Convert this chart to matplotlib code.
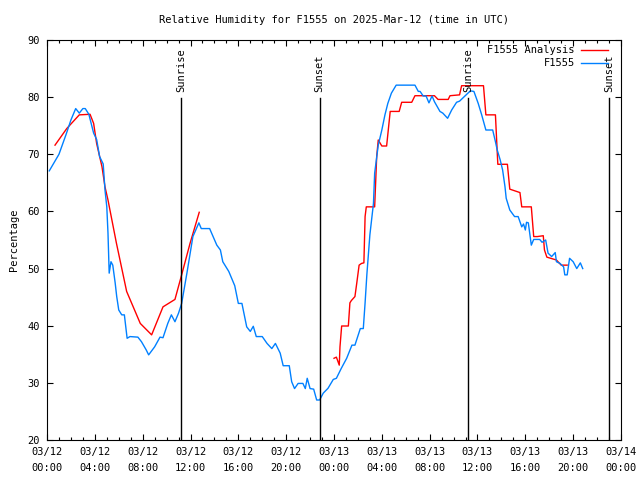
import matplotlib
matplotlib.use('Agg')
import matplotlib.pyplot as plt
from matplotlib.ticker import MultipleLocator, FixedLocator

plt.rcParams['font.family'] = ['DejaVu Sans Mono']
plt.rcParams['font.size'] = 7.5

# hours since 2025-03-12 00:00 UTC
obs_hours = [0.19, 1.0, 1.6, 2.0, 2.4, 2.7, 3.0, 3.2, 3.5, 3.9, 4.15, 4.4, 4.7, 4.85, 5.0,
             5.1, 5.2, 5.35, 5.5, 5.7, 5.83, 6.0, 6.25, 6.47, 6.7, 6.94, 7.6, 7.9, 8.3, 8.5,
             9.0, 9.45, 9.7, 10.1, 10.4, 10.7, 11.0, 11.26, 11.7, 12.2, 12.7, 12.9, 13.6, 14.2,
             14.5, 14.7, 15.2, 15.7, 16.0, 16.3, 16.7, 17.0, 17.25, 17.5, 18.0, 18.4, 18.8,
             19.1, 19.5, 19.75, 20.26, 20.46, 20.7, 21.0, 21.4, 21.6, 21.76, 22.0, 22.3, 22.55,
             22.8, 23.1, 23.5, 23.94, 24.2, 24.6, 25.06, 25.5, 25.75, 26.2, 26.45, 26.6, 26.75,
             26.9, 27.0, 27.3, 27.4, 27.7, 28.0, 28.26, 28.5, 28.8, 29.2, 30.77, 31.05, 31.2,
             31.46, 31.7, 31.94, 32.2, 32.4, 32.86, 33.1, 33.5, 33.84, 34.25, 34.5, 34.9, 35.4,
             35.7, 36.06, 36.35, 36.7, 37.27, 37.5, 37.65, 37.9, 38.1, 38.3, 38.4, 38.7, 39.1,
             39.4, 39.7, 39.85, 40.0, 40.1, 40.25, 40.5, 40.7, 41.2, 41.4, 41.7, 41.9, 42.2,
             42.5, 42.6, 42.9, 43.2, 43.3, 43.5, 43.7, 44.0, 44.3, 44.6, 44.8]
obs_rh = [67.1, 70.0, 73.5, 76.0, 78.0, 77.2, 78.0, 78.0, 77.0, 73.7, 72.6, 69.6, 68.3, 63.75, 60.8,
          56.2, 49.2, 51.2, 50.6, 47.5, 45.1, 42.75, 41.9, 41.9, 37.8, 38.1, 38.0, 37.2, 35.75, 34.9,
          36.3, 38.0, 37.9, 40.4, 41.9, 40.7, 42.2, 43.9, 49.2, 55.6, 58.0, 57.0, 57.0, 54.1,
          53.25, 51.2, 49.5, 47.0, 43.9, 43.9, 39.8, 39.0, 39.9, 38.1, 38.1, 36.9, 36.0,
          36.9, 35.2, 33.0, 33.0, 30.2, 29.0, 29.9, 29.9, 29.0, 30.8, 29.0, 28.9, 27.0,
          27.0, 28.2, 29.05, 30.6, 30.8, 32.5, 34.3, 36.6, 36.6, 39.5, 39.5, 44.0, 49.0,
          53.0, 55.9, 61.4, 66.7, 71.6, 74.25, 76.9, 78.9, 80.7, 82.1, 82.1, 81.0, 81.0,
          80.2, 80.2, 79.0, 80.2, 79.2, 77.5, 77.2, 76.3, 77.75, 79.1, 79.3, 80.1, 81.1,
          81.0, 78.9, 76.9, 74.25, 74.25, 72.2, 70.75, 69.0, 67.25, 64.3, 62.3, 60.25, 59.1,
          59.1, 57.3, 57.8, 56.75, 58.1, 58.0, 54.1, 55.1, 55.1, 54.6, 55.0, 52.7, 52.1,
          52.8, 51.2, 50.9, 50.3, 48.9, 48.9, 51.8, 51.2, 50.0, 51.0, 50.0]

# analysis series, two runs separated by a gap
ana1_hours = [0.67, 1.65, 2.7, 3.6, 3.9, 4.15, 4.6, 4.85, 5.1, 5.8, 6.66, 7.8, 8.75, 9.7,
              10.7, 11.26, 11.96, 12.73]
ana1_rh = [71.6, 74.5, 76.9, 77.0, 75.4, 71.9, 67.8, 64.3, 62.0, 54.5, 46.0, 40.4, 38.4, 43.3,
           44.6, 48.9, 54.4, 59.85]
ana2_hours = [24.0, 24.2, 24.44, 24.5, 24.64, 25.2, 25.33, 25.45, 25.75, 25.9, 26.1, 26.3, 26.5,
              26.6, 26.7, 27.4, 27.57, 27.7, 28.0, 28.4, 28.7, 29.45, 29.66, 30.5, 30.77, 32.4,
              32.7, 33.55, 33.7, 34.5, 34.67, 36.5, 36.7, 37.5, 37.6, 37.7, 38.5, 38.7, 39.55,
              39.7, 40.5, 40.7, 41.0, 41.5, 41.6, 41.8, 42.6, 43.0, 43.5]
ana2_rh = [34.3, 34.5, 33.1, 36.3, 39.95, 39.95, 44.0, 44.4, 45.1, 47.4, 50.6, 50.9, 51.0,
           59.1, 60.8, 60.8, 69.6, 72.5, 71.45, 71.45, 77.5, 77.5, 79.1, 79.1, 80.25, 80.25,
           79.6, 79.6, 80.25, 80.4, 82.0, 82.0, 76.9, 76.9, 72.5, 68.25, 68.25, 63.9, 63.3,
           60.8, 60.8, 55.6, 55.6, 55.75, 53.25, 52.0, 51.5, 50.6, 50.6]

sun_hours = [11.2, 22.8, 35.2, 47.0]
sun_labels = ['Sunrise', 'Sunset', 'Sunrise', 'Sunset']

tick_hours = [0, 4, 8, 12, 16, 20, 24, 28, 32, 36, 40, 44, 48]
tick_labels = ['03/12\n00:00', '03/12\n04:00', '03/12\n08:00', '03/12\n12:00', '03/12\n16:00',
               '03/12\n20:00', '03/13\n00:00', '03/13\n04:00', '03/13\n08:00', '03/13\n12:00',
               '03/13\n16:00', '03/13\n20:00', '03/14\n00:00']

RED = '#ff0000'
BLUE = '#0080ff'

fig = plt.figure(figsize=(6.4, 4.8), dpi=100)
ax = fig.add_axes([47 / 640, 40 / 480, 574 / 640, 400 / 480])

ax.plot(ana1_hours, ana1_rh, color=RED, lw=1, label='F1555 Analysis')
ax.plot(ana2_hours, ana2_rh, color=RED, lw=1)
ax.plot(obs_hours, obs_rh, color=BLUE, lw=1, label='F1555')

for h, lab in zip(sun_hours, sun_labels):
    ax.plot([h, h], [20, 79.8], color='black', lw=1)
    ax.text(h, 80.9, lab, rotation=90, ha='center', va='bottom')

ax.set_xlim(0, 48)
ax.set_ylim(20, 90)
ax.xaxis.set_major_locator(FixedLocator(tick_hours))
ax.set_xticklabels(tick_labels, linespacing=1.8)
ax.xaxis.set_minor_locator(MultipleLocator(1))
ax.yaxis.set_major_locator(MultipleLocator(10))
ax.tick_params(which='both', direction='in', top=True, right=True, width=0.8)
ax.tick_params(which='major', length=4, pad=5)
ax.tick_params(which='minor', length=2)
for s in ax.spines.values():
    s.set_linewidth(0.8)

ax.set_ylabel('Percentage', labelpad=6)
ax.set_title('Relative Humidity for F1555 on 2025-Mar-12 (time in UTC)', fontsize=7.5, pad=12)

ax.legend(loc='upper right', bbox_to_anchor=(0.99, 1.005), frameon=False, markerfirst=False,
          handlelength=2.6, handletextpad=0.6, labelspacing=0.3, borderaxespad=0.3)

fig.savefig('out.png', dpi=100)
